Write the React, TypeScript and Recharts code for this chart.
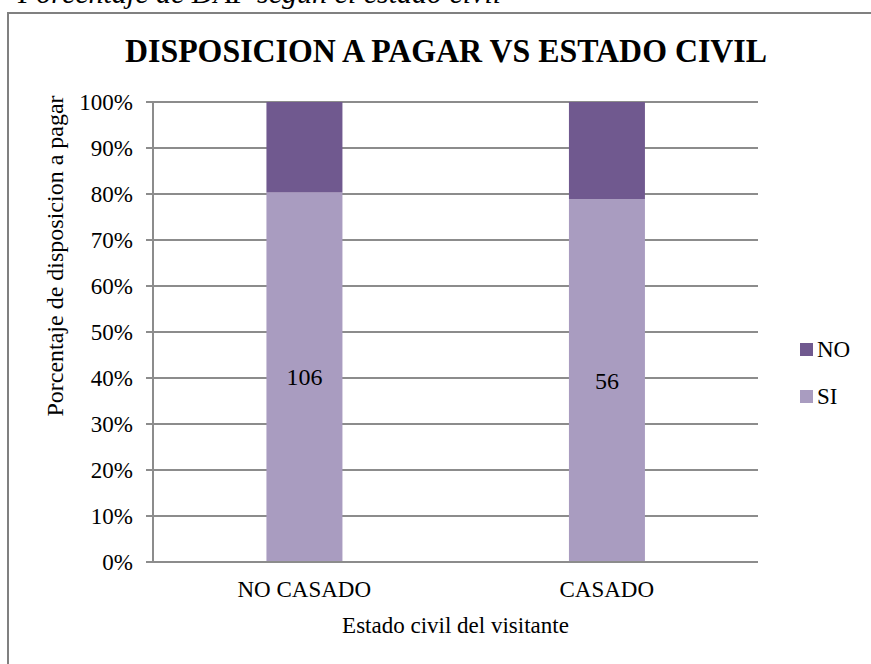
import { BarChart, Bar, XAxis, YAxis, CartesianGrid, Legend, LabelList } from "recharts";

const categories = ["NO CASADO", "CASADO"];
const siCounts = [106, 56];
const noCounts = [26, 15];
const yTicks = [0, 0.1, 0.2, 0.3, 0.4, 0.5, 0.6, 0.7, 0.8, 0.9, 1];

const data = categories.map((name, i) => ({ name, SI: siCounts[i], NO: noCounts[i] }));

const FONT = '"Liberation Serif", "Times New Roman", serif';
const GRID = "#8c8c8c";
const NO_COLOR = "#70598f";
const SI_COLOR = "#a99cc0";
const txt = { fontFamily: FONT };

const legendItems = [
  { label: "NO", color: NO_COLOR },
  { label: "SI", color: SI_COLOR },
];

function LegendBox() {
  return (
    <div style={{ fontFamily: FONT, fontSize: 23, color: "#000" }}>
      {legendItems.map((it) => (
        <div key={it.label} style={{ display: "flex", alignItems: "center", height: 47 }}>
          <span style={{ width: 13, height: 13, background: it.color, marginRight: 4, display: "inline-block" }} />
          <span>{it.label}</span>
        </div>
      ))}
    </div>
  );
}

function XTick(props: any) {
  const { x, y, payload } = props;
  return (
    <text x={x} y={y + 16} textAnchor="middle" fontSize={23} fill="#000" style={txt}>
      {payload.value}
    </text>
  );
}

function YTick(props: any) {
  const { x, y, payload } = props;
  return (
    <text x={x} y={y + 8} textAnchor="end" fontSize={23} fill="#000" style={txt}>
      {`${Math.round(payload.value * 100)}%`}
    </text>
  );
}

function XTitle(props: any) {
  const vb = props.viewBox;
  return (
    <text x={vb.x + vb.width / 2} y={vb.y + 71} textAnchor="middle" fontSize={23} fill="#000" style={txt}>
      Estado civil del visitante
    </text>
  );
}

function YTitle(props: any) {
  const vb = props.viewBox;
  const cx = vb.x - 18;
  const cy = 256;
  return (
    <text
      x={cx}
      y={cy}
      transform={`rotate(-90 ${cx} ${cy})`}
      textAnchor="middle"
      dominantBaseline="central"
      fontSize={24}
      fill="#000"
      style={txt}
    >
      Porcentaje de disposicion a pagar
    </text>
  );
}

function CountLabel(props: any) {
  const { x, y, width, height, value } = props;
  return (
    <text x={x + width / 2} y={y + height / 2 + 8} textAnchor="middle" fontSize={24} fill="#000" style={txt}>
      {value}
    </text>
  );
}

export default function App() {
  return (
    <div
      style={{
        position: "absolute",
        left: 0,
        top: 0,
        width: 871,
        height: 664,
        overflow: "hidden",
        background: "#fff",
        fontFamily: FONT,
      }}
    >
      <svg width={871} height={664} style={{ position: "absolute", left: 0, top: 0 }}>
        <text x={18} y={3} fontStyle="italic" fontSize={30} fill="#000" style={txt}>
          Porcentaje de DAP segun el estado civil
        </text>
        <rect x={8} y={13} width={900} height={700} fill="none" stroke="#808080" strokeWidth={2} />
        <text
          x={446}
          y={62}
          textAnchor="middle"
          fontWeight="bold"
          fontSize={33}
          textLength={642}
          lengthAdjust="spacingAndGlyphs"
          fill="#000"
          style={txt}
        >
          DISPOSICION A PAGAR VS ESTADO CIVIL
        </text>
      </svg>
      <div style={{ position: "absolute", left: 0, top: 0 }}>
        <BarChart
          width={871}
          height={664}
          data={data}
          stackOffset="expand"
          barCategoryGap="37.5%"
          margin={{ top: 102, right: 43, left: 73, bottom: 62 }}
        >
          <CartesianGrid vertical={false} stroke={GRID} strokeWidth={2} />
          <XAxis
            dataKey="name"
            height={40}
            tickLine={false}
            tickSize={0}
            tickMargin={19}
            axisLine={{ stroke: GRID, strokeWidth: 2 }}
            tick={<XTick />}
            label={<XTitle />}
          />
          <YAxis
            width={80}
            ticks={yTicks}
            domain={[0, 1]}
            interval={0}
            tickSize={7}
            tickMargin={13}
            tickLine={{ stroke: GRID, strokeWidth: 2 }}
            axisLine={{ stroke: GRID, strokeWidth: 2 }}
            tick={<YTick />}
            label={<YTitle />}
          />
          <Legend
            layout="horizontal"
            verticalAlign="middle"
            align="right"
            content={() => <LegendBox />}
            wrapperStyle={{ left: 800, top: 326, width: 70, height: 94 }}
          />
          <Bar dataKey="SI" stackId="a" fill={SI_COLOR} isAnimationActive={false}>
            <LabelList dataKey="SI" content={<CountLabel />} />
          </Bar>
          <Bar dataKey="NO" stackId="a" fill={NO_COLOR} isAnimationActive={false} />
        </BarChart>
      </div>
    </div>
  );
}
